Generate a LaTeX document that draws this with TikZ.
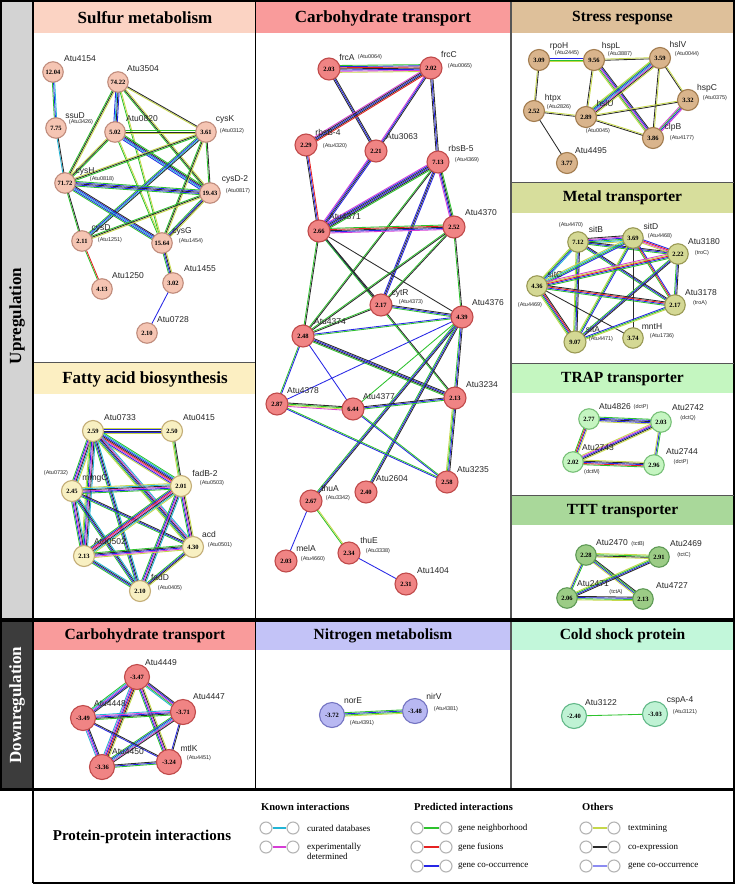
\documentclass[tikz,border=0pt]{standalone}
\usepackage{fontspec}
\setmainfont{Liberation Serif}
\newfontfamily\Lsans{Liberation Sans}
\usetikzlibrary{calc}
\pgfdeclarelayer{bg}
\pgfdeclarelayer{edges}
\pgfsetlayers{bg,edges,main}
% edge colours
\definecolor{eC}{HTML}{22B5D6}
\definecolor{eM}{HTML}{D63ED6}
\definecolor{eG}{HTML}{2DC22D}
\definecolor{eR}{HTML}{E62222}
\definecolor{eB}{HTML}{2626E6}
\definecolor{eY}{HTML}{C6D84A}
\definecolor{eK}{HTML}{2A2A2A}
\definecolor{eL}{HTML}{8C8CF2}
% panel colours
\definecolor{hSul}{HTML}{FBD3C3}\definecolor{sulF}{HTML}{F5C5B3}\definecolor{sulD}{HTML}{C08C7C}
\definecolor{hCarb}{HTML}{F99B9B}\definecolor{carbF}{HTML}{F08484}\definecolor{carbD}{HTML}{C04A4A}
\definecolor{hStr}{HTML}{DEC09A}\definecolor{strF}{HTML}{D9B48C}\definecolor{strD}{HTML}{A37D50}
\definecolor{hMet}{HTML}{D7DE9C}\definecolor{metF}{HTML}{D4D894}\definecolor{metD}{HTML}{9A9A55}
\definecolor{hTrap}{HTML}{C4F6C0}\definecolor{trapF}{HTML}{C5F5C1}\definecolor{trapD}{HTML}{78C078}
\definecolor{hTtt}{HTML}{A9D89A}\definecolor{tttF}{HTML}{9CCC86}\definecolor{tttD}{HTML}{5E9A55}
\definecolor{hFat}{HTML}{FCEFC2}\definecolor{fatF}{HTML}{F8F0C2}\definecolor{fatD}{HTML}{C4AE78}
\definecolor{hNit}{HTML}{C3C3F7}\definecolor{nitF}{HTML}{B8B8F2}\definecolor{nitD}{HTML}{7474C2}
\definecolor{hCold}{HTML}{C2F7DA}\definecolor{coldF}{HTML}{BFF2D4}\definecolor{coldD}{HTML}{62B888}
\definecolor{upgray}{HTML}{D3D3D3}
\definecolor{downgray}{HTML}{3C3C3C}
\definecolor{sepgray}{HTML}{555555}
\definecolor{leggray}{HTML}{B4B4B4}

\newcommand{\Ebd}[3]{%
  \gdef\Ecount{0}%
  \foreach \cc in {#3}{\xdef\Ecount{\the\numexpr\Ecount+1\relax}}%
  \foreach \cc [count=\ii] in {#3}{%
    \pgfmathsetmacro\Eoff{(\ii-(\Ecount+1)/2)*1.15}%
    \draw[\cc,line width=0.85pt] ($(#1)!\Eoff pt!90:(#2)$) -- ($(#2)!\Eoff pt!-90:(#1)$);
  }%
}

\tikzset{
  gnode/.style={circle,inner sep=0pt,line width=1.1pt,font=\bfseries\fontsize{6.5}{7}\selectfont},
  sul/.style={gnode,minimum size=20.5pt,fill=sulF,draw=sulD},
  carb/.style={gnode,minimum size=22pt,fill=carbF,draw=carbD},
  strn/.style={gnode,minimum size=21pt,fill=strF,draw=strD},
  metn/.style={gnode,minimum size=20.5pt,fill=metF,draw=metD},
  trapn/.style={gnode,minimum size=20.5pt,fill=trapF,draw=trapD},
  tttn/.style={gnode,minimum size=20.5pt,fill=tttF,draw=tttD},
  fatn/.style={gnode,minimum size=21pt,fill=fatF,draw=fatD},
  dcarb/.style={gnode,minimum size=25pt,fill=carbF,draw=carbD},
  nitn/.style={gnode,minimum size=25pt,fill=nitF,draw=nitD},
  coldn/.style={gnode,minimum size=25pt,fill=coldF,draw=coldD},
  lab/.style={font=\Lsans\fontsize{8.5}{9}\selectfont,inner sep=0pt,text=black!85},
  slab/.style={font=\Lsans\fontsize{5.5}{6}\selectfont,inner sep=0pt,text=black!85},
  ttl/.style={font=\bfseries\fontsize{17}{19}\selectfont,inner sep=0pt},
  ttls/.style={font=\bfseries\fontsize{15.5}{17}\selectfont,inner sep=0pt},
  legc/.style={circle,draw=leggray,line width=1.1pt,minimum size=12pt,inner sep=0pt,fill=white},
  legl/.style={line width=2pt},
  legt/.style={font=\fontsize{9}{10.5}\selectfont,inner sep=0pt,anchor=west,align=left},
  legh/.style={font=\bfseries\fontsize{10.5}{12}\selectfont,inner sep=0pt,anchor=west},
}

\begin{document}
\begin{tikzpicture}[x=1pt,y=-1pt]
\useasboundingbox (0,0) rectangle (735,884);

\begin{pgfonlayer}{bg}
\fill[white] (0,0) rectangle (735,884);
\fill[upgray] (0,0) rectangle (33,619);
\fill[downgray] (0,621) rectangle (33,789);
% headers
\fill[hSul] (34,2) rectangle (255,33);
\fill[hCarb] (255,2) rectangle (511,33);
\fill[hStr] (511,2) rectangle (734,33);
\fill[hMet] (511,183) rectangle (734,213);
\fill[hTrap] (511,364) rectangle (734,393);
\fill[hTtt] (511,496) rectangle (734,525);
\fill[hFat] (34,363) rectangle (255,394);
\fill[hCarb] (34,622) rectangle (255,650);
\fill[hNit] (255,622) rectangle (511,650);
\fill[hCold] (511,622) rectangle (734,650);
% frame lines
\draw[line width=2pt] (0,1) -- (735,1);
\draw[line width=2pt] (1,0) -- (1,789);
\draw[line width=1.5pt] (734,0) -- (734,884);
\draw[line width=2.5pt] (33,0) -- (33,883);
\draw[line width=1pt] (255,2) -- (255,619);
\draw[line width=1pt] (255,621) -- (255,788);
\draw[sepgray,line width=1.5pt] (511,2) -- (511,619);
\draw[sepgray,line width=1.5pt] (511,621) -- (511,788);
\draw[sepgray,line width=1.5pt] (34,362.5) -- (255,362.5);
\draw[sepgray,line width=1.5pt] (511,182.5) -- (734,182.5);
\draw[sepgray,line width=1.5pt] (511,363.5) -- (734,363.5);
\draw[sepgray,line width=1.5pt] (511,495.5) -- (734,495.5);
\draw[line width=3.5pt] (0,620) -- (735,620);
\draw[line width=3pt] (0,789) -- (735,789);
\draw[line width=2pt] (33,883) -- (735,883);
\end{pgfonlayer}

% side labels and titles
\node[rotate=90,font=\bfseries\fontsize{17}{19}\selectfont] (upreg) at (17,316) {Upregulation};
\node[rotate=90,font=\bfseries\fontsize{17}{19}\selectfont,text=white] (downreg) at (17,705) {Downregulation};
\node[ttl] (tSul) at (145,18) {Sulfur metabolism};
\node[ttl] (tCarb) at (383,18) {Carbohydrate transport};
\node[ttls] (tStr) at (622.5,18) {Stress response};
\node[ttls] (tMet) at (622.5,198) {Metal transporter};
\node[ttls] (tTrap) at (622.5,379) {TRAP transporter};
\node[ttls] (tTtt) at (622.5,511) {TTT transporter};
\node[ttl] (tFat) at (145,379) {Fatty acid biosynthesis};
\node[ttls] (tDCarb) at (145,636) {Carbohydrate transport};
\node[ttls] (tNit) at (383,636) {Nitrogen metabolism};
\node[ttls] (tCold) at (622.5,636) {Cold shock protein};

% ---------------- Sulfur metabolism
\node[sul] (sA4154) at (53,72) {12.04};
\node[sul] (sA3504) at (118,82) {74.22};
\node[sul] (sSsuD) at (56,128) {7.75};
\node[sul] (sA0820) at (115,132) {5.02};
\node[sul] (sCysK) at (206,132) {3.61};
\node[sul] (sCysH) at (65,183) {71.72};
\node[sul] (sCysD2) at (210,193) {19.43};
\node[sul] (sCysD) at (82,241) {2.11};
\node[sul] (sCysG) at (162,243) {15.64};
\node[sul] (sA1250) at (102,289) {4.13};
\node[sul] (sA1455) at (173,283) {3.02};
\node[sul] (sA0728) at (147,333) {2.10};
\node[lab] (l1) at (80,59) {Atu4154};
\node[lab] (l2) at (143,69) {Atu3504};
\node[lab] (l3) at (75,116) {ssuD};
\node[slab] (l4) at (81,122) {(Atu3426)};
\node[lab] (l5) at (142,119) {Atu0820};
\node[lab] (l6) at (225,119) {cysK};
\node[slab] (l7) at (232,131) {(Atu0312)};
\node[lab] (l8) at (85,171) {cysH};
\node[slab] (l9) at (102,179) {(Atu0818)};
\node[lab] (l10) at (235,179) {cysD-2};
\node[slab] (l11) at (238,191) {(Atu0817)};
\node[lab] (l12) at (101,228) {cysD};
\node[slab] (l13) at (110,240) {(Atu1251)};
\node[lab] (l14) at (182,231) {cysG};
\node[slab] (l15) at (191,241) {(Atu1454)};
\node[lab] (l16) at (128,276) {Atu1250};
\node[lab] (l17) at (200,269) {Atu1455};
\node[lab] (l18) at (173,320) {Atu0728};

% ---------------- Carbohydrate transport (up)
\node[carb] (cFrcA) at (329,69) {2.03};
\node[carb] (cFrcC) at (431,68) {2.02};
\node[carb] (cRbsB4) at (306,145) {2.29};
\node[carb] (cA3063) at (376,151) {2.21};
\node[carb] (cRbsB5) at (438,162) {7.13};
\node[carb] (cA4371) at (319,231) {2.66};
\node[carb] (cA4370) at (454,227) {2.52};
\node[carb] (cCytR) at (381,305) {2.17};
\node[carb] (cA4376) at (462,317) {4.39};
\node[carb] (cA4374) at (303,336) {2.48};
\node[carb] (cA4378) at (277,404) {2.87};
\node[carb] (cA4377) at (353,409) {6.44};
\node[carb] (cA3234) at (455,398) {2.13};
\node[carb] (cA3235) at (447,482) {2.58};
\node[carb] (cA2604) at (366,492) {2.40};
\node[carb] (cThuA) at (311,501) {2.67};
\node[carb] (cMelA) at (286,561) {2.03};
\node[carb] (cThuE) at (349,553) {2.34};
\node[carb] (cA1404) at (406,584) {2.31};
\node[lab] (m1) at (347,57) {frcA};
\node[slab] (m2) at (370,57) {(Atu0064)};
\node[lab] (m3) at (449,54) {frcC};
\node[slab] (m4) at (460,66) {(Atu0065)};
\node[lab] (m5) at (328,132) {rbsB-4};
\node[slab] (m6) at (335,146) {(Atu4320)};
\node[lab] (m7) at (402,137) {Atu3063};
\node[lab] (m8) at (461,148) {rbsB-5};
\node[slab] (m9) at (467,160) {(Atu4369)};
\node[lab] (m10) at (345,217) {Atu4371};
\node[lab] (m11) at (481,213) {Atu4370};
\node[lab] (m12) at (400,293) {cytR};
\node[slab] (m13) at (411,302) {(Atu4373)};
\node[lab] (m14) at (488,303) {Atu4376};
\node[lab] (m15) at (330,322) {Atu4374};
\node[lab] (m16) at (303,391) {Atu4378};
\node[lab] (m17) at (379,397) {Atu4377};
\node[lab] (m18) at (482,385) {Atu3234};
\node[lab] (m19) at (473,470) {Atu3235};
\node[lab] (m20) at (392,479) {Atu2604};
\node[lab] (m21) at (330,488) {thuA};
\node[slab] (m22) at (338,498) {(Atu3342)};
\node[lab] (m23) at (306,548) {melA};
\node[slab] (m24) at (313,559) {(Atu4660)};
\node[lab] (m25) at (369,540) {thuE};
\node[slab] (m26) at (378,551) {(Atu3338)};
\node[lab] (m27) at (433,571) {Atu1404};

% ---------------- Stress response
\node[strn] (tRpoH) at (539,60) {3.09};
\node[strn] (tHspL) at (594,60) {9.56};
\node[strn] (tHslV) at (660,58) {3.59};
\node[strn] (tHspC) at (688,100) {3.32};
\node[strn] (tHtpx) at (534,111) {2.52};
\node[strn] (tHslU) at (586,117) {2.89};
\node[strn] (tClpB) at (653,138) {3.86};
\node[strn] (tA4495) at (567,163) {3.77};
\node[lab] (n1) at (559,46) {rpoH};
\node[slab] (n2) at (567,53) {(Atu2445)};
\node[lab] (n3) at (611,46) {hspL};
\node[slab] (n4) at (620,54) {(Atu3887)};
\node[lab] (n5) at (678,44) {hslV};
\node[slab] (n6) at (687,54) {(Atu0044)};
\node[lab] (n7) at (707,88) {hspC};
\node[slab] (n8) at (715,98) {(Atu0375)};
\node[lab] (n9) at (553,98) {htpx};
\node[slab] (n10) at (559,107) {(Atu2826)};
\node[lab] (n11) at (605,103) {hslU};
\node[slab] (n12) at (598,131) {(Atu0045)};
\node[lab] (n13) at (673,127) {clpB};
\node[slab] (n14) at (682,138) {(Atu4177)};
\node[lab] (n15) at (591,151) {Atu4495};

% ---------------- Metal transporter
\node[metn] (mSitB) at (578,242) {7.12};
\node[metn] (mSitD) at (633,238) {3.69};
\node[metn] (mA3180) at (678,254) {2.22};
\node[metn] (mSitC) at (537,286) {4.36};
\node[metn] (mA3178) at (675,305) {2.17};
\node[metn,minimum size=22pt] (mSitA) at (575,342) {9.07};
\node[metn] (mMntH) at (633,338) {3.74};
\node[slab] (o1) at (571,225) {(Atu4470)};
\node[lab] (o2) at (596,229) {sitB};
\node[lab] (o3) at (651,226) {sitD};
\node[slab] (o4) at (660,236) {(Atu4468)};
\node[lab] (o5) at (704,242) {Atu3180};
\node[slab] (o6) at (702,253) {(troC)};
\node[lab] (o7) at (555,274) {sitC};
\node[slab] (o8) at (530,305) {(Atu4469)};
\node[lab] (o9) at (701,293) {Atu3178};
\node[slab] (o10) at (700,303) {(troA)};
\node[lab] (o11) at (593,329) {sitA};
\node[slab] (o12) at (601,339) {(Atu4471)};
\node[lab] (o13) at (652,327) {mntH};
\node[slab] (o14) at (662,336) {(Atu1736)};

% ---------------- TRAP transporter
\node[trapn] (pA4826) at (589,419) {2.77};
\node[trapn] (pA2742) at (661,422) {2.03};
\node[trapn] (pA2743) at (573,462) {2.02};
\node[trapn] (pA2744) at (654,465) {2.96};
\node[lab] (p1) at (615,407) {Atu4826};
\node[slab] (p2) at (641,407) {(dctP)};
\node[lab] (p3) at (688,408) {Atu2742};
\node[slab] (p4) at (688,418) {(dctQ)};
\node[lab] (p5) at (598,448) {Atu2743};
\node[slab] (p6) at (592,472) {(dctM)};
\node[lab] (p7) at (682,452) {Atu2744};
\node[slab] (p8) at (681,462) {(dctP)};

% ---------------- TTT transporter
\node[tttn] (qA2470) at (586,555) {2.28};
\node[tttn] (qA2469) at (659,557) {2.91};
\node[tttn] (qA2471) at (567,598) {2.06};
\node[tttn] (qA4727) at (643,599) {2.13};
\node[lab] (q1) at (612,543) {Atu2470};
\node[slab] (q2) at (638,544) {(tctB)};
\node[lab] (q3) at (686,544) {Atu2469};
\node[slab] (q4) at (684,555) {(tctC)};
\node[lab] (q5) at (593,584) {Atu2471};
\node[slab] (q6) at (616,592) {(tctA)};
\node[lab] (q7) at (672,586) {Atu4727};

% ---------------- Fatty acid biosynthesis
\node[fatn] (fA0733) at (93,431) {2.59};
\node[fatn] (fA0415) at (172,431) {2.50};
\node[fatn] (fMmgC) at (72,491) {2.45};
\node[fatn] (fFadB2) at (181,486) {2.01};
\node[fatn] (fA0502) at (84,556) {2.13};
\node[fatn] (fAcd) at (193,547) {4.30};
\node[fatn] (fFadD) at (140,591) {2.10};
\node[lab] (r1) at (120,418) {Atu0733};
\node[lab] (r2) at (199,418) {Atu0415};
\node[slab] (r3) at (56,473) {(Atu0732)};
\node[lab] (r4) at (95,478) {mmgC};
\node[lab] (r5) at (205,473) {fadB-2};
\node[slab] (r6) at (212,483) {(Atu0503)};
\node[lab] (r7) at (110,542) {Atu0502};
\node[lab] (r8) at (209,534) {acd};
\node[slab] (r9) at (220,545) {(Atu0501)};
\node[lab] (r10) at (160,577) {fadD};
\node[slab] (r11) at (170,588) {(Atu0405)};

% ---------------- Downregulation
\node[dcarb] (dA4449) at (137,677) {-3.47};
\node[dcarb] (dA4447) at (183,712) {-3.71};
\node[dcarb] (dA4448) at (83,718) {-3.49};
\node[dcarb] (dMtlK) at (169,762) {-3.24};
\node[dcarb] (dA4450) at (102,767) {-3.36};
\node[lab] (u1) at (161,663) {Atu4449};
\node[lab] (u2) at (209,697) {Atu4447};
\node[lab] (u3) at (110,704) {Atu4448};
\node[lab] (u4) at (189,748) {mtlK};
\node[slab] (u5) at (199,758) {(Atu4451)};
\node[lab] (u6) at (128,752) {Atu4450};

\node[nitn] (nNorE) at (332,715) {-3.72};
\node[nitn] (nNirV) at (415,711) {-3.48};
\node[lab] (v1) at (353,701) {norE};
\node[slab] (v2) at (362,723) {(Atu4391)};
\node[lab] (v3) at (434,696) {nirV};
\node[slab] (v4) at (446,709) {(Atu4381)};

\node[coldn] (kA3122) at (574,716) {-2.40};
\node[coldn] (kCspA4) at (655,714) {-3.03};
\node[lab] (w1) at (601,703) {Atu3122};
\node[lab] (w2) at (680,700) {cspA-4};
\node[slab] (w3) at (685,712) {(Atu3121)};

% ---------------- Edges
\begin{pgfonlayer}{edges}
% sulfur
\Ebd{sA4154}{sSsuD}{eG,eB,eC}
\Ebd{sSsuD}{sCysH}{eC,eK}
\Ebd{sA3504}{sA0820}{eB,eC,eK,eB}
\Ebd{sA3504}{sCysH}{eG,eK,eY}
\Ebd{sA3504}{sCysK}{eY,eK}
\Ebd{sA3504}{sCysD2}{eG,eK,eY}
\Ebd{sA3504}{sCysG}{eG,eY}
\Ebd{sA0820}{sCysK}{eY,eK,eG}
\Ebd{sA0820}{sCysH}{eY,eK,eG}
\Ebd{sA0820}{sCysD2}{eB,eC,eB,eK,eG}
\Ebd{sA0820}{sCysG}{eG,eY}
\Ebd{sCysK}{sCysH}{eY,eK,eG}
\Ebd{sCysK}{sCysD2}{eG,eK}
\Ebd{sCysK}{sCysD}{eG,eB,eC,eK}
\Ebd{sCysK}{sCysG}{eG,eK,eY}
\Ebd{sCysH}{sCysD2}{eG,eB,eK,eB,eG}
\Ebd{sCysH}{sCysD}{eG,eK}
\Ebd{sCysH}{sCysG}{eG,eB,eC,eB,eK}
\Ebd{sCysD2}{sCysD}{eG,eK,eY}
\Ebd{sCysD2}{sCysG}{eG,eB,eK,eY}
\Ebd{sCysD}{sA1250}{eG,eR}
\Ebd{sCysG}{sA1455}{eG,eB,eK,eY}
\Ebd{sA1455}{sA0728}{eB}
% carbohydrate up
\Ebd{cFrcA}{cFrcC}{eY,eM,eB,eK,eR,eB,eG}
\Ebd{cFrcA}{cA3063}{eK,eB,eK}
\Ebd{cFrcC}{cRbsB4}{eM,eK,eB,eK,eR}
\Ebd{cFrcC}{cA3063}{eM,eB,eK}
\Ebd{cFrcC}{cRbsB5}{eK,eB,eK}
\Ebd{cRbsB4}{cA4371}{eK,eB,eR}
\Ebd{cA3063}{cA4371}{eM,eB,eK,eB}
\Ebd{cRbsB5}{cA4371}{eM,eB,eK,eB,eK,eG}
\Ebd{cRbsB5}{cA4370}{eM,eB,eK,eG}
\Ebd{cRbsB5}{cCytR}{eB,eK,eB}
\Ebd{cRbsB5}{cA4374}{eG,eK}
\Ebd{cA4371}{cA4370}{eM,eB,eK,eR,eG}
\Ebd{cA4371}{cA4374}{eG,eK}
\Ebd{cA4371}{cCytR}{eB,eK}
\Ebd{cA4371}{cA4376}{eK}
\Ebd{cA4371}{cA3234}{eG,eK}
\Ebd{cA4370}{cA4374}{eG,eK}
\Ebd{cA4370}{cCytR}{eG,eK}
\Ebd{cA4370}{cA4376}{eG,eK}
\Ebd{cCytR}{cA4374}{eG,eK}
\Ebd{cCytR}{cA4376}{eG,eB,eK}
\Ebd{cA4374}{cA4376}{eG,eB}
\Ebd{cA4374}{cA4378}{eG,eB}
\Ebd{cA4374}{cA4377}{eB}
\Ebd{cA4374}{cA3234}{eG,eK,eB,eK}
\Ebd{cA4376}{cA4378}{eB}
\Ebd{cA4376}{cA3234}{eG,eB,eK}
\Ebd{cA4376}{cThuA}{eG,eB,eK}
\Ebd{cA4376}{cA2604}{eG,eB,eK}
\Ebd{cA4376}{cA4377}{eG}
\Ebd{cA4378}{cA4377}{eM,eY,eG,eK}
\Ebd{cA4378}{cA3235}{eB,eG}
\Ebd{cA4377}{cA3234}{eG,eB,eK}
\Ebd{cA4377}{cA3235}{eB,eG}
\Ebd{cA3234}{cA3235}{eY,eG,eB,eK}
\Ebd{cThuA}{cMelA}{eB}
\Ebd{cThuA}{cThuE}{eG,eY}
\Ebd{cThuE}{cA1404}{eB}
% stress
\Ebd{tRpoH}{tHspL}{eY,eG,eB}
\Ebd{tRpoH}{tHtpx}{eY,eK}
\Ebd{tHspL}{tHslV}{eK,eY}
\Ebd{tHspL}{tHslU}{eK,eY}
\Ebd{tHspL}{tClpB}{eY,eG,eM,eB,eK}
\Ebd{tHslV}{tHslU}{eY,eG,eB,eC,eM,eK,eY}
\Ebd{tHslV}{tClpB}{eK,eY}
\Ebd{tHslV}{tHspC}{eK,eY}
\Ebd{tHtpx}{tHslU}{eK,eY}
\Ebd{tHtpx}{tA4495}{eK}
\Ebd{tHslU}{tHspC}{eK,eY}
\Ebd{tHslU}{tClpB}{eK,eY}
\Ebd{tHspC}{tClpB}{eM,eG,eB,eM}
% metal
\Ebd{mSitB}{mSitD}{eY,eC,eG,eB,eM,eK}
\Ebd{mSitB}{mSitC}{eY,eG,eB,eC}
\Ebd{mSitB}{mSitA}{eY,eG,eB,eK}
\Ebd{mSitB}{mA3180}{eG,eB,eK}
\Ebd{mSitB}{mA3178}{eG,eB,eK}
\Ebd{mSitD}{mA3180}{eY,eM,eR,eB}
\Ebd{mSitD}{mSitC}{eY,eC,eG,eB}
\Ebd{mSitD}{mSitA}{eY,eG,eB}
\Ebd{mSitD}{mA3178}{eG,eR,eB}
\Ebd{mSitD}{mMntH}{eK}
\Ebd{mA3180}{mA3178}{eG,eB,eK}
\Ebd{mA3180}{mSitC}{eM,eY,eR,eB,eG}
\Ebd{mA3180}{mSitA}{eG,eB,eK}
\Ebd{mSitC}{mA3178}{eG,eB,eR,eK}
\Ebd{mSitC}{mSitA}{eY,eG,eB,eR,eK}
\Ebd{mSitC}{mMntH}{eK}
\Ebd{mSitA}{mA3178}{eY,eG,eB}
% TRAP
\Ebd{pA4826}{pA2742}{eY,eB,eK,eB,eG}
\Ebd{pA4826}{pA2743}{eG,eR,eB,eY}
\Ebd{pA2742}{pA2743}{eY,eM,eB,eK,eY}
\Ebd{pA2742}{pA2744}{eY,eB,eG}
\Ebd{pA2743}{pA2744}{eG,eR,eB,eK,eY}
% TTT
\Ebd{qA2470}{qA2469}{eY,eK,eG,eY}
\Ebd{qA2470}{qA2471}{eY,eB,eG}
\Ebd{qA2470}{qA4727}{eY,eB,eG,eK}
\Ebd{qA2469}{qA2471}{eY,eG,eB,eK}
\Ebd{qA2471}{qA4727}{eY,eG,eB,eK}
% fatty acid
\Ebd{fA0733}{fA0415}{eY,eB,eK,eB,eY}
\Ebd{fA0733}{fMmgC}{eG,eB,eM,eK,eC,eY}
\Ebd{fA0733}{fFadB2}{eY,eB,eM,eR,eK,eB,eC,eG}
\Ebd{fA0733}{fA0502}{eY,eG,eB,eM,eK,eC}
\Ebd{fA0733}{fAcd}{eY,eG,eB,eK,eM,eC}
\Ebd{fA0733}{fFadD}{eG,eB,eK,eC}
\Ebd{fA0415}{fFadB2}{eY,eG,eK}
\Ebd{fMmgC}{fFadB2}{eG,eB,eM,eK,eC,eY}
\Ebd{fMmgC}{fA0502}{eG,eB,eM,eK,eC}
\Ebd{fMmgC}{fFadD}{eG,eB,eK,eC}
\Ebd{fMmgC}{fAcd}{eG,eB,eK}
\Ebd{fFadB2}{fA0502}{eG,eB,eR,eM,eK,eC,eY}
\Ebd{fFadB2}{fAcd}{eG,eB,eM,eK,eY}
\Ebd{fFadB2}{fFadD}{eG,eB,eM,eK,eC}
\Ebd{fA0502}{fAcd}{eY,eM,eB,eK,eG}
\Ebd{fA0502}{fFadD}{eG,eB,eK,eC}
\Ebd{fAcd}{fFadD}{eG,eB,eK,eY}
% down carbohydrate
\Ebd{dA4449}{dA4447}{eC,eG,eM,eB,eK}
\Ebd{dA4449}{dA4448}{eG,eC,eM,eB,eK}
\Ebd{dA4449}{dA4450}{eC,eM,eB,eR,eK,eY}
\Ebd{dA4449}{dMtlK}{eG,eB,eM,eK,eY}
\Ebd{dA4447}{dA4448}{eC,eM,eB,eK,eG}
\Ebd{dA4447}{dA4450}{eG,eB,eC,eM,eK}
\Ebd{dA4447}{dMtlK}{eB,eK}
\Ebd{dA4448}{dA4450}{eC,eM,eB,eK}
\Ebd{dA4448}{dMtlK}{eB,eK}
\Ebd{dA4450}{dMtlK}{eG,eB,eK}
% nitrogen, cold shock
\Ebd{nNorE}{nNirV}{eY,eG,eB,eG}
\Ebd{kA3122}{kCspA4}{eG}
\end{pgfonlayer}

% ---------------- Legend
\node[font=\bfseries\fontsize{15}{17}\selectfont] (ppi) at (142,837) {Protein-protein interactions};
\node[legh] (hk) at (261,807) {Known interactions};
\node[legh] (hp) at (414,807) {Predicted interactions};
\node[legh] (ho) at (582,807) {Others};
% known
\node[legc] (k1a) at (266,828) {};
\node[legc] (k1b) at (293,828) {};
\draw[legl,eC] (k1a) -- (k1b);
\node[legt] (k1t) at (307,828) {curated databases};
\node[legc] (k2a) at (266,847) {};
\node[legc] (k2b) at (293,847) {};
\draw[legl,eM] (k2a) -- (k2b);
\node[legt] (k2t) at (307,851.5) {experimentally\\determined};
% predicted
\node[legc] (p1a) at (417,828) {};
\node[legc] (p1b) at (446,828) {};
\draw[legl,eG] (p1a) -- (p1b);
\node[legt] (p1t) at (458,828) {gene neighborhood};
\node[legc] (p2a) at (417,847) {};
\node[legc] (p2b) at (446,847) {};
\draw[legl,eR] (p2a) -- (p2b);
\node[legt] (p2t) at (458,847) {gene fusions};
\node[legc] (p3a) at (417,866) {};
\node[legc] (p3b) at (446,866) {};
\draw[legl,eB] (p3a) -- (p3b);
\node[legt] (p3t) at (458,866) {gene co-occurrence};
% others
\node[legc] (o1a) at (586,828) {};
\node[legc] (o1b) at (614,828) {};
\draw[legl,eY] (o1a) -- (o1b);
\node[legt] (o1t) at (628,828) {textmining};
\node[legc] (o2a) at (586,847) {};
\node[legc] (o2b) at (614,847) {};
\draw[legl,eK] (o2a) -- (o2b);
\node[legt] (o2t) at (628,847) {co-expression};
\node[legc] (o3a) at (586,866) {};
\node[legc] (o3b) at (614,866) {};
\draw[legl,eL] (o3a) -- (o3b);
\node[legt] (o3t) at (628,866) {gene co-occurrence};
\end{tikzpicture}
\end{document}
